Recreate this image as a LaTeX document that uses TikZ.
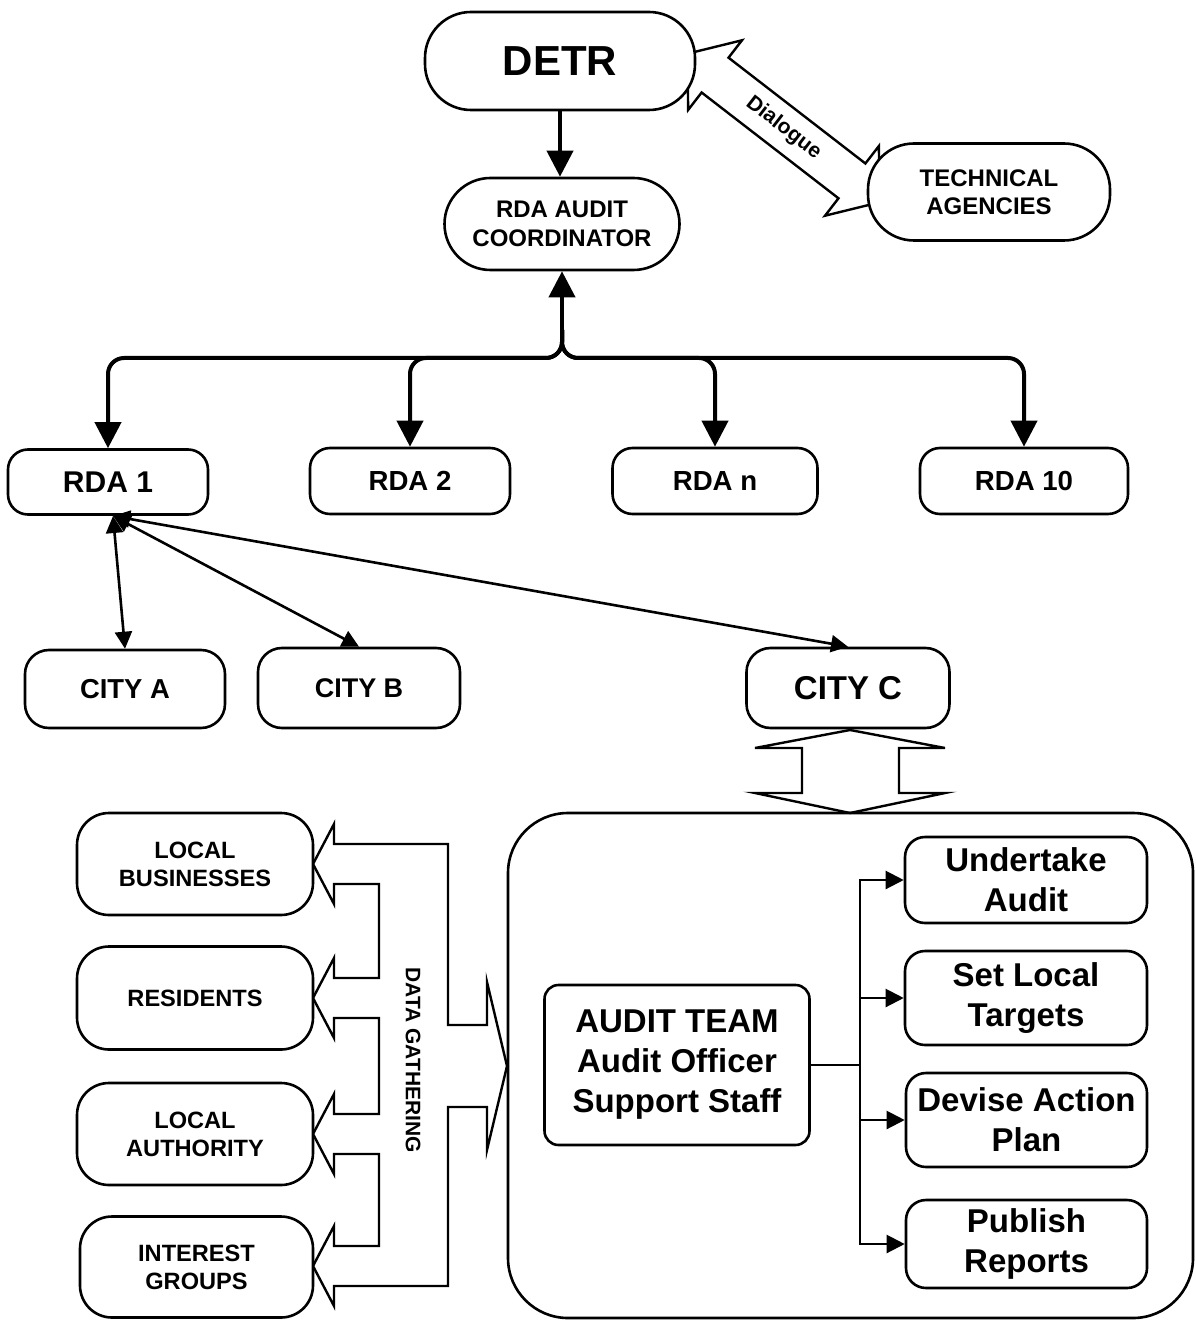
\documentclass[tikz,border=0pt]{standalone}
\usepackage{fontspec}
\setmainfont{Liberation Sans}
\usepackage{tikz}
\usetikzlibrary{arrows.meta}

\begin{document}
\begin{tikzpicture}[x=0.5pt,y=-0.5pt,
  rbox/.style={draw,line width=1.3pt,fill=white,align=center,inner sep=0pt,rounded corners=10pt},
  oval/.style={rbox,rounded corners=23pt},
  bigarrow/.style={line width=2pt,-{Triangle[width=13pt,length=13pt]}},
  cityarrow/.style={line width=1.3pt,{Triangle[width=8.5pt,length=8.5pt]}-{Triangle[width=8.5pt,length=8.5pt]}},
  teamarrow/.style={line width=1.1pt,-{Triangle[width=9pt,length=9pt]}},
  blockarrow/.style={line width=1.2pt,fill=white,line join=miter}]
\useasboundingbox (0,0) rectangle (1195,1320);

\begin{scope}[shift={(783.5,128)},rotate=-37.7]
\draw[blockarrow] (-121.5,0)--(-86.5,-44)--(-86.5,-22)--(86.5,-22)--(86.5,-44)--(121.5,0)--(86.5,44)--(86.5,22)--(-86.5,22)--(-86.5,44)--cycle;
\end{scope}
\node[rotate=-37.7,font=\bfseries\fontsize{10.5}{12}\selectfont] (dialogue) at (783.5,128) {Dialogue};

\draw[blockarrow] (850,730)--(945,748)--(899,748)--(899,793)--(945,793)--(850,813)--(755,793)--(802,793)--(802,748)--(755,748)--cycle;

\draw[blockarrow] (507,1066)--(487,982)--(487,1025)--(448,1025)--(448,844)--(334,844)--(334,824)--(313,864)--(334,904)--(334,884)--(379,884)--(379,978)--(334,978)--(334,958)--(313,998)--(334,1038)--(334,1018)--(379,1018)--(379,1114)--(334,1114)--(334,1094)--(313,1134)--(334,1174)--(334,1154)--(379,1154)--(379,1246)--(334,1246)--(334,1226)--(313,1266)--(334,1306)--(334,1286)--(448,1286)--(448,1107)--(487,1107)--(487,1150)--cycle;
\node[rotate=-90,font=\bfseries\fontsize{10.5}{12}\selectfont] (gather) at (413,1060) {DATA GATHERING};

\node[oval,minimum width=135pt,minimum height=49pt,font=\bfseries\fontsize{21}{25}\selectfont] (detr) at (560,61) {DETR};
\node[oval,minimum width=117.5pt,minimum height=46pt,font=\bfseries\fontsize{12}{14.5}\selectfont] (coord) at (562,224) {RDA AUDIT\\COORDINATOR};
\node[oval,minimum width=121pt,minimum height=48.5pt,font=\bfseries\fontsize{12}{14}\selectfont] (tech) at (989,192) {TECHNICAL\\AGENCIES};

\node[rbox,minimum width=100pt,minimum height=32.5pt,font=\bfseries\fontsize{15}{18}\selectfont] (rda1) at (108,482) {RDA 1};
\node[rbox,minimum width=100pt,minimum height=33pt,font=\bfseries\fontsize{13.8}{16}\selectfont] (rda2) at (410,481) {RDA 2};
\node[rbox,minimum width=102.5pt,minimum height=33pt,font=\bfseries\fontsize{13.8}{16}\selectfont] (rdan) at (715,481) {RDA n};
\node[rbox,minimum width=104pt,minimum height=33pt,font=\bfseries\fontsize{13.8}{16}\selectfont] (rda10) at (1024,481) {RDA 10};

\node[rbox,rounded corners=12pt,minimum width=100pt,minimum height=39pt,font=\bfseries\fontsize{13.7}{16}\selectfont] (citya) at (125,689) {CITY A};
\node[rbox,rounded corners=12pt,minimum width=101pt,minimum height=40pt,font=\bfseries\fontsize{13.5}{16}\selectfont] (cityb) at (359,688) {CITY B};
\node[rbox,rounded corners=12pt,minimum width=101.5pt,minimum height=40pt,font=\bfseries\fontsize{16.5}{19}\selectfont] (cityc) at (848,688) {CITY C};

\node[rbox,rounded corners=16pt,minimum width=118pt,minimum height=51pt,font=\bfseries\fontsize{11.8}{14}\selectfont] (business) at (195,864) {LOCAL\\BUSINESSES};
\node[rbox,rounded corners=16pt,minimum width=118pt,minimum height=51.5pt,font=\bfseries\fontsize{11.8}{14}\selectfont] (residents) at (195,998) {RESIDENTS};
\node[rbox,rounded corners=16pt,minimum width=118pt,minimum height=51pt,font=\bfseries\fontsize{11.8}{14}\selectfont] (authority) at (195,1134) {LOCAL\\AUTHORITY};
\node[rbox,rounded corners=16pt,minimum width=116.5pt,minimum height=50.5pt,font=\bfseries\fontsize{11.8}{14}\selectfont] (interest) at (196.5,1267) {INTEREST\\GROUPS};

\node[draw,line width=1.3pt,rounded corners=30pt,minimum width=342.5pt,minimum height=252.5pt] (hub) at (850.5,1065.5) {};
\node[rbox,rounded corners=7pt,minimum width=132.5pt,minimum height=80pt,font=\bfseries\fontsize{16.5}{20}\selectfont] (team) at (677,1065) {AUDIT TEAM\\Audit Officer\\Support Staff};

\node[rbox,minimum width=121pt,minimum height=43pt,font=\bfseries\fontsize{16.5}{20}\selectfont] (act1) at (1026,880) {Undertake\\Audit};
\node[rbox,minimum width=121pt,minimum height=47pt,font=\bfseries\fontsize{16.5}{20}\selectfont] (act2) at (1026,998) {Set Local\\Targets};
\node[rbox,minimum width=120.5pt,minimum height=47pt,font=\bfseries\fontsize{16.5}{20}\selectfont] (act3) at (1026.5,1120) {Devise Action\\Plan};
\node[rbox,minimum width=120.5pt,minimum height=44pt,font=\bfseries\fontsize{16.5}{20}\selectfont] (act4) at (1026.5,1244) {Publish\\Reports};

\draw[bigarrow] (detr.south) -- (detr.south |- coord.north);

\coordinate (fork) at (562,330);
\coordinate (bar) at (562,358);
\draw[bigarrow] (fork) -- (coord.south);
\foreach \r in {rda1,rda2,rdan,rda10}
  \draw[bigarrow,rounded corners=8pt] (fork) -- (bar) -| (\r.north);

\coordinate (foot) at (113,516);
\foreach \c in {citya,cityb,cityc}
  \draw[cityarrow] (foot) -- (\c.north);

\coordinate (split) at (860,1065);
\draw[line width=1.1pt] (team.east) -- (split);
\foreach \a in {act1,act2,act3,act4}
  \draw[teamarrow] (split) |- (\a.west);
\end{tikzpicture}
\end{document}
